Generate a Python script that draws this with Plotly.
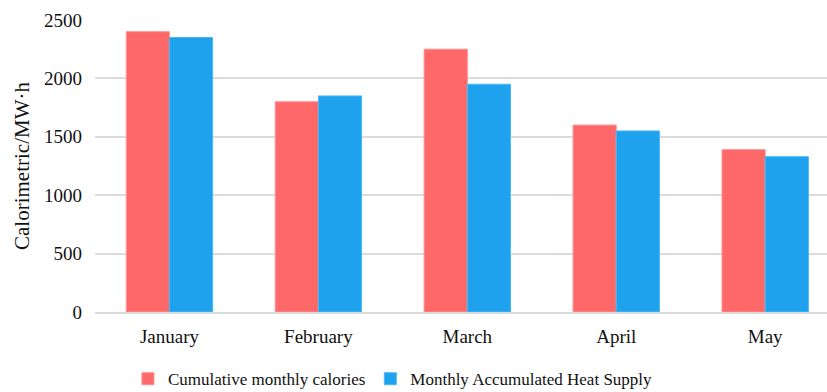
import plotly.graph_objects as go

months = ["January", "February", "March", "April", "May"]
cumulative_calories = [2400, 1800, 2250, 1600, 1390]
accumulated_heat_supply = [2350, 1850, 1950, 1550, 1330]

RED = "#FF6868"
BLUE = "#1EA2EE"

fig = go.Figure()
fig.add_trace(go.Bar(
    x=months, y=cumulative_calories, name="Cumulative monthly calories",
    marker=dict(color=RED, line=dict(color="#FF8F8F", width=1)),
))
fig.add_trace(go.Bar(
    x=months, y=accumulated_heat_supply, name="Monthly Accumulated Heat Supply",
    marker=dict(color=BLUE, line=dict(color="#4CB8F5", width=1)),
))

fig.update_layout(
    width=827, height=392,
    margin=dict(l=95, r=0, t=20, b=80, autoexpand=False),
    paper_bgcolor="white", plot_bgcolor="white",
    barmode="group", bargap=0.42, bargroupgap=0,
    font=dict(family="Liberation Serif", size=19, color="#111111"),
    showlegend=True,
    legend=dict(
        orientation="h", x=0.045, xanchor="left", y=-0.23, yanchor="middle",
        font=dict(size=17), itemwidth=30, tracegroupgap=0,
    ),
    xaxis=dict(
        range=[-0.5, 4.415], showgrid=False, showline=True, automargin=False,
        linecolor="#d9d9d9", linewidth=2, ticks="", ticklabelstandoff=6,
        tickfont=dict(size=19),
    ),
    yaxis=dict(
        range=[0, 2500], dtick=500, showgrid=True, gridcolor="#dcdcdc",
        gridwidth=2, zeroline=False, showline=False, ticks="", automargin=False,
        ticklabelstandoff=12, tickfont=dict(size=19),
        title=dict(text="Calorimetric/MW·h", font=dict(size=21), standoff=8),
    ),
)

fig.write_html("out.html")
